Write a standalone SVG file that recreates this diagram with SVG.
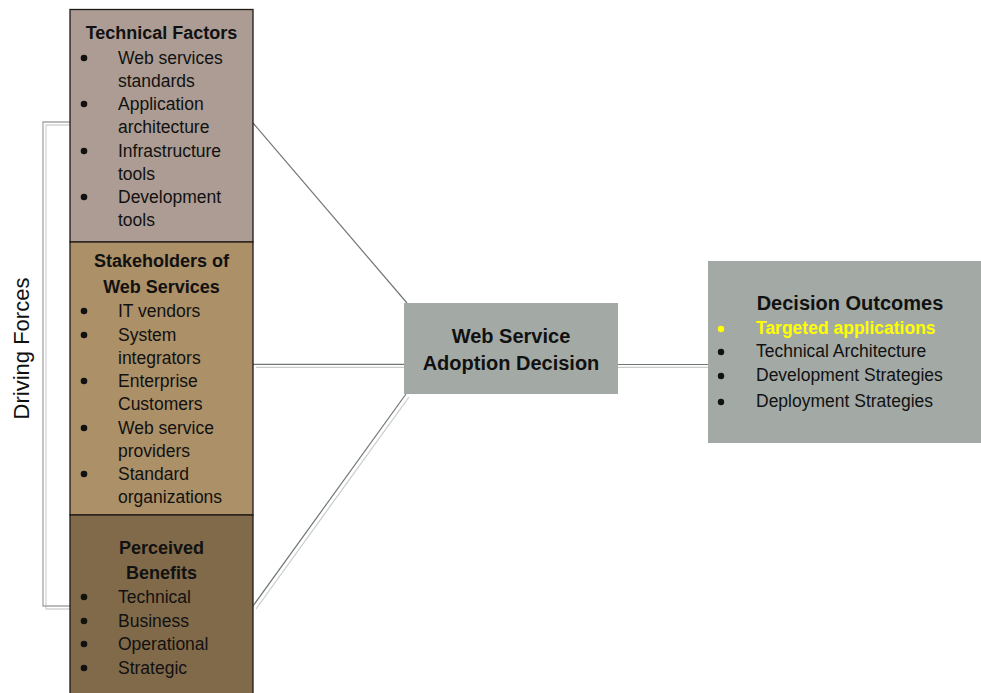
<svg xmlns="http://www.w3.org/2000/svg" width="981" height="693" viewBox="0 0 981 693">
<style>
  .t { font-family: "Liberation Sans", Arial, sans-serif; fill: #111; }
  .body { font-size: 17.5px; }
  .title { font-size: 18px; font-weight: bold; text-anchor: middle; }
  .big { font-size: 20px; font-weight: bold; text-anchor: middle; }
  .box { stroke: #1e1a16; stroke-width: 1.3; }
  .dark { stroke: #6e7773; stroke-width: 1.2; fill: none; }
  .light { stroke: #c9cccb; stroke-width: 1.2; fill: none; }
  .bdark { stroke: #a5a5a5; stroke-width: 1.3; fill: none; }
  .blight { stroke: #d4d4d4; stroke-width: 1.3; fill: none; }
  .dot { fill: #111; }
</style>
<rect width="981" height="693" fill="#ffffff"/>

<g id="connectors">
  <!-- Driving forces bracket -->
  <polyline class="blight" points="73,125 46,125 46,609 73,609"/>
  <polyline class="bdark" points="73,122 43,122 43,606 73,606"/>
  <!-- Technical Factors to decision -->
  <line class="dark" x1="253" y1="123" x2="407" y2="303"/>
  <!-- Stakeholders to decision -->
  <line class="light" x1="256" y1="367.3" x2="405" y2="367.3"/>
  <line class="dark" x1="253" y1="364.3" x2="405" y2="364.3"/>
  <!-- Perceived benefits to decision -->
  <line class="light" x1="256" y1="609" x2="409" y2="397"/>
  <line class="dark" x1="253" y1="606" x2="406" y2="394"/>
  <!-- Decision to outcomes -->
  <line class="light" x1="618" y1="367.3" x2="708" y2="367.3"/>
  <line class="dark" x1="618" y1="364.5" x2="708" y2="364.5"/>
</g>

<g id="driving-forces">
  <text class="t" font-size="22" text-anchor="middle" transform="translate(29,348.5) rotate(-90)">Driving Forces</text>
</g>

<g id="technical-factors">
  <rect class="box" x="70" y="9.5" width="183" height="232.5" fill="#ac9c93"/>
  <text class="t title" x="161.5" y="39">Technical Factors</text>
  <circle class="dot" cx="84" cy="58" r="3.3"/>
  <circle class="dot" cx="84" cy="104" r="3.3"/>
  <circle class="dot" cx="84" cy="151" r="3.3"/>
  <circle class="dot" cx="84" cy="197" r="3.3"/>
  <text class="t body" x="118" y="64">Web services</text>
  <text class="t body" x="118" y="87">standards</text>
  <text class="t body" x="118" y="110">Application</text>
  <text class="t body" x="118" y="133">architecture</text>
  <text class="t body" x="118" y="157">Infrastructure</text>
  <text class="t body" x="118" y="180">tools</text>
  <text class="t body" x="118" y="203">Development</text>
  <text class="t body" x="118" y="226">tools</text>
</g>

<g id="stakeholders">
  <rect class="box" x="70" y="242" width="183" height="273" fill="#ac9068"/>
  <text class="t title" x="161.5" y="267">Stakeholders of</text>
  <text class="t title" x="161.5" y="293">Web Services</text>
  <circle class="dot" cx="84" cy="311" r="3.3"/>
  <circle class="dot" cx="84" cy="335" r="3.3"/>
  <circle class="dot" cx="84" cy="381" r="3.3"/>
  <circle class="dot" cx="84" cy="428" r="3.3"/>
  <circle class="dot" cx="84" cy="474" r="3.3"/>
  <text class="t body" x="118" y="317">IT vendors</text>
  <text class="t body" x="118" y="341">System</text>
  <text class="t body" x="118" y="364">integrators</text>
  <text class="t body" x="118" y="387">Enterprise</text>
  <text class="t body" x="118" y="410">Customers</text>
  <text class="t body" x="118" y="434">Web service</text>
  <text class="t body" x="118" y="457">providers</text>
  <text class="t body" x="118" y="480">Standard</text>
  <text class="t body" x="118" y="503">organizations</text>
</g>

<g id="perceived-benefits">
  <rect class="box" x="70" y="515" width="183" height="190" fill="#816a4a"/>
  <text class="t title" x="161.5" y="554">Perceived</text>
  <text class="t title" x="161.5" y="579">Benefits</text>
  <circle class="dot" cx="84" cy="597" r="3.3"/>
  <circle class="dot" cx="84" cy="621" r="3.3"/>
  <circle class="dot" cx="84" cy="644" r="3.3"/>
  <circle class="dot" cx="84" cy="668" r="3.3"/>
  <text class="t body" x="118" y="603">Technical</text>
  <text class="t body" x="118" y="627">Business</text>
  <text class="t body" x="118" y="650">Operational</text>
  <text class="t body" x="118" y="674">Strategic</text>
</g>

<g id="adoption-decision">
  <rect x="404" y="303" width="214" height="91" fill="#a3aaa5"/>
  <text class="t big" x="511" y="343">Web Service</text>
  <text class="t big" x="511" y="370">Adoption Decision</text>
</g>

<g id="decision-outcomes">
  <rect x="708" y="261" width="285" height="182" fill="#a3aaa5"/>
  <text class="t big" x="850" y="310">Decision Outcomes</text>
  <circle cx="721" cy="329" r="3.2" fill="#ffff00"/>
  <circle class="dot" cx="721" cy="352" r="3.2"/>
  <circle class="dot" cx="721" cy="376" r="3.2"/>
  <circle class="dot" cx="721" cy="402" r="3.2"/>
  <text class="t body" x="756" y="334" font-weight="bold" style="fill:#ffff00">Targeted applications</text>
  <text class="t body" x="756" y="357">Technical Architecture</text>
  <text class="t body" x="756" y="381">Development Strategies</text>
  <text class="t body" x="756" y="407">Deployment Strategies</text>
</g>
</svg>
